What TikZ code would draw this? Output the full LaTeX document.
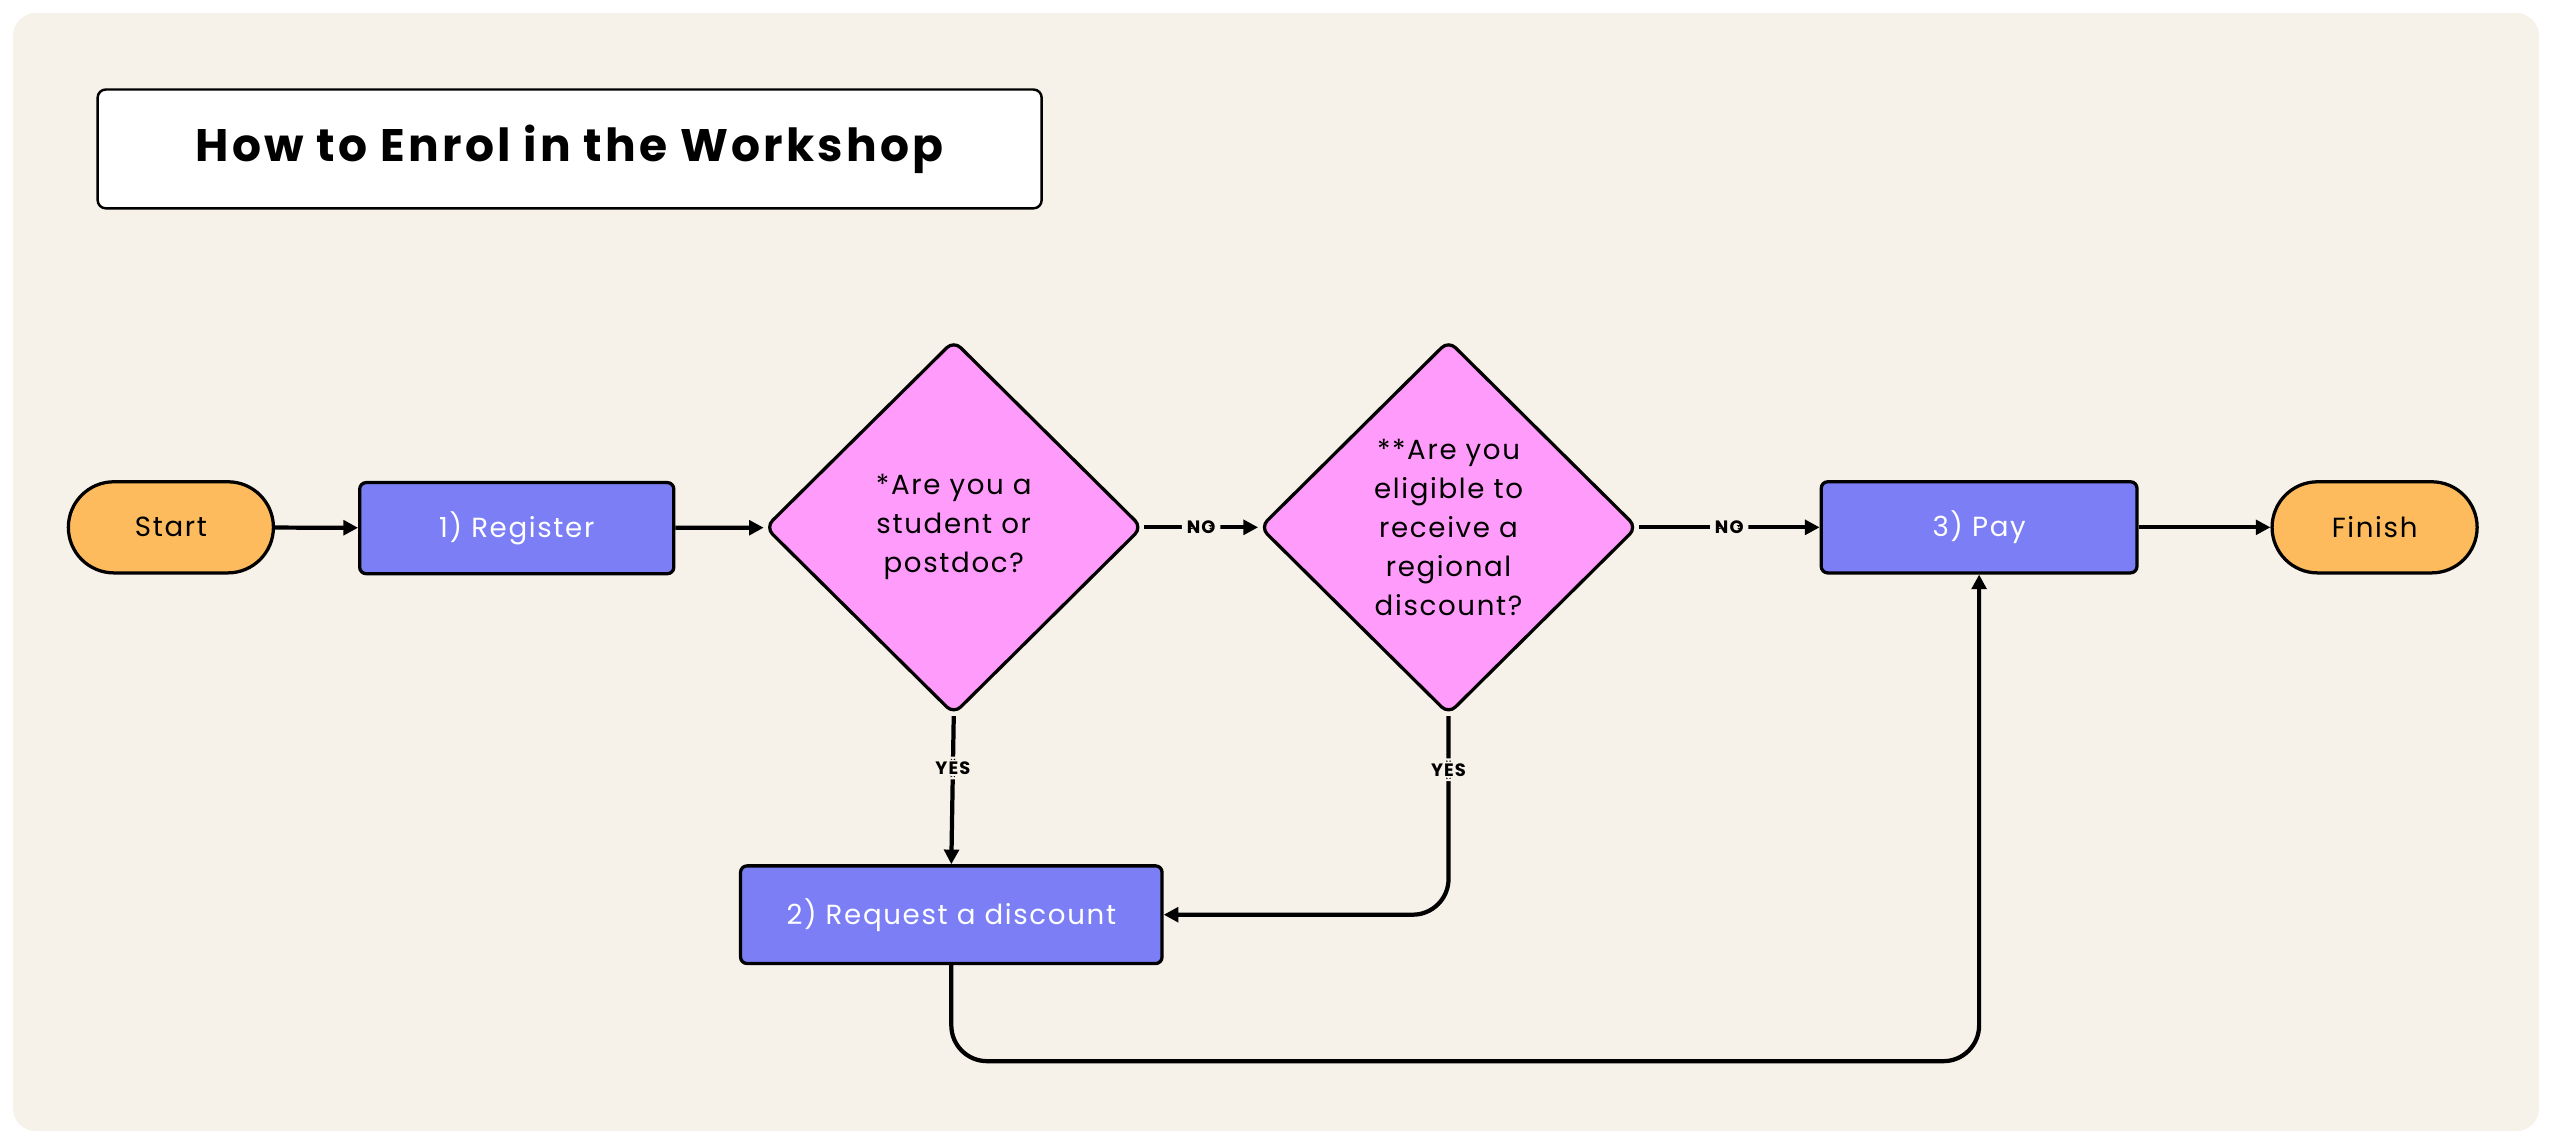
\documentclass[tikz,border=0pt]{standalone}
\usepackage{fontspec}
\setmainfont{Poppins}
\newfontfamily\spaced[LetterSpace=6]{Poppins}
\newfontfamily\tspaced[LetterSpace=7]{Poppins}
\usetikzlibrary{shapes.geometric,arrows.meta}
\definecolor{bg}{HTML}{F6F1E9}
\definecolor{orng}{HTML}{FDBB5E}
\definecolor{blu}{HTML}{7B7EF4}
\definecolor{pnk}{HTML}{FF9CFB}
\begin{document}
\begin{tikzpicture}[x=1pt,y=-1pt,
  base/.style={draw=black,line width=2pt,font=\spaced\fontsize{17}{24}\selectfont,align=center,inner sep=0pt},
  term/.style={base,fill=orng,rounded corners=28pt,minimum width=126pt,minimum height=56pt},
  proc/.style={base,fill=blu,text=white,rounded corners=4pt,minimum height=56pt},
  dec/.style={base,fill=pnk,diamond,minimum width=232pt,minimum height=230pt,rounded corners=6pt},
  conn/.style={line width=2.6pt,-{Triangle[length=9pt,width=9pt]},rounded corners=22pt},
  lab/.style={fill=bg,font=\spaced\bfseries\fontsize{11}{12}\selectfont,inner sep=3pt}]
\useasboundingbox (0,0) rectangle (1568,702);
\fill[white] (0,0) rectangle (1568,702);
\fill[bg,rounded corners=14pt] (8,8) rectangle (1560,695);
\node[draw=black,line width=1.5pt,fill=white,rounded corners=5pt,minimum width=580pt,minimum height=73pt,font=\tspaced\bfseries\fontsize{28}{32}\selectfont] (title) at (350,91.5) {How to Enrol in the Workshop};
\node[term] (start) at (105,324) {Start};
\node[proc,minimum width=193pt] (reg) at (317.5,324.5) {1) Register};
\node[dec] (d1) at (586,324) {*Are you a\\student or\\postdoc?};
\node[dec] (d2) at (890,324) {**Are you\\eligible to\\receive a\\regional\\discount?};
\node[proc,minimum width=194pt] (pay) at (1216,324) {3) Pay};
\node[term] (fin) at (1459,324) {Finish};
\node[proc,minimum width=259pt,minimum height=60pt] (req) at (584.5,562) {2) Request a discount};
\draw[conn] (start) -- (reg);
\draw[conn] (reg) -- (d1);
\draw[conn] (d1) -- node[lab]{NO} (d2);
\draw[conn] (d2) -- node[lab]{NO} (pay);
\draw[conn] (pay) -- (fin);
\draw[conn] (d1.south) -- node[lab,pos=0.35]{YES} (req.north);
\draw[conn] (d2.south) -- node[lab,pos=0.27]{YES} (d2.south |- req.east) -- (req.east);
\draw[conn] (req.south) -- (584.5,652) -- (1216,652) -- (pay.south);
\end{tikzpicture}
\end{document}
